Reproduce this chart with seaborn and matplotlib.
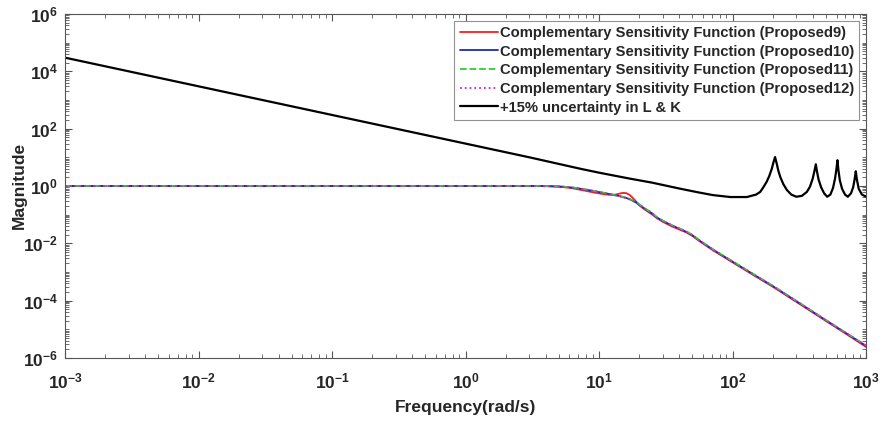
import matplotlib
matplotlib.use("Agg")
import matplotlib.pyplot as plt
import numpy as np
import seaborn as sns
from matplotlib.ticker import LogLocator, NullFormatter

# closed-loop curves (complementary sensitivity)
freq_T = [1e-3, 1e-2, 1e-1, 1, 2, 3, 4, 5, 6, 7, 8, 9, 10, 11, 12, 13, 14, 15, 16,
          17, 18, 19, 20, 22, 25, 27, 30, 35, 40, 45, 50, 57, 72, 100, 150, 202,
          300, 500, 700, 1000]
mag_p9 = [1.0, 1.0, 1.0, 1.0, 1.0, 0.995, 0.98, 0.94, 0.86, 0.76, 0.67, 0.60, 0.55,
          0.51, 0.49, 0.49, 0.53, 0.57, 0.56, 0.48, 0.37, 0.28, 0.21, 0.15, 0.10,
          0.076, 0.056, 0.039, 0.030, 0.024, 0.018, 0.0115, 0.0055, 0.00215,
          0.00068, 0.000295, 0.00009, 0.0000194, 0.0000071, 0.0000024]
mag_p10 = [1.0, 1.0, 1.0, 1.0, 1.0, 0.998, 0.99, 0.96, 0.90, 0.82, 0.74, 0.67, 0.61,
           0.56, 0.52, 0.48, 0.45, 0.41, 0.38, 0.34, 0.30, 0.26, 0.22, 0.16, 0.11,
           0.08, 0.06, 0.042, 0.032, 0.025, 0.019, 0.012, 0.0058, 0.00227, 0.00072,
           0.00031, 0.000095, 0.0000204, 0.0000075, 0.0000026]
mag_p11 = [1.0, 1.0, 1.0, 1.0, 1.0, 0.998, 0.99, 0.965, 0.91, 0.83, 0.75, 0.68, 0.62,
           0.57, 0.53, 0.49, 0.46, 0.42, 0.39, 0.35, 0.31, 0.27, 0.23, 0.165, 0.114,
           0.083, 0.062, 0.043, 0.033, 0.026, 0.0196, 0.0124, 0.006, 0.00234,
           0.00074, 0.00032, 0.000098, 0.000021, 0.0000077, 0.0000027]
mag_p12 = [1.0, 1.0, 1.0, 1.0, 1.0, 0.998, 0.99, 0.96, 0.90, 0.82, 0.74, 0.67, 0.61,
           0.56, 0.52, 0.48, 0.45, 0.41, 0.38, 0.34, 0.30, 0.26, 0.22, 0.16, 0.11,
           0.08, 0.06, 0.042, 0.032, 0.025, 0.019, 0.012, 0.0058, 0.00227, 0.00072,
           0.00031, 0.000095, 0.0000204, 0.0000075, 0.0000026]

# +15% uncertainty curve
freq_unc = [1e-3, 1e-2, 1e-1, 1, 3, 7.2, 10, 17, 25, 40, 55, 71, 96, 128, 150, 161,
            170, 180, 188, 196, 202, 208, 214, 220, 228, 240, 255, 275, 300, 330,
            360, 380, 398, 410, 420, 428, 440, 460, 485, 511, 540, 565, 585, 598,
            610, 620, 635, 660, 695, 729, 770, 800, 820, 837, 852, 880, 930, 1000]
mag_unc = [3e4, 3e3, 300, 30, 10, 4.0, 2.9, 1.8, 1.3, 0.81, 0.6, 0.48, 0.41, 0.41,
           0.5, 0.62, 0.9, 1.4, 2.2, 3.8, 6.5, 10.2, 6.0, 3.4, 2.0, 1.15, 0.72, 0.5,
           0.42, 0.45, 0.62, 0.95, 1.8, 3.3, 5.7, 3.3, 1.7, 0.9, 0.55, 0.42, 0.5,
           0.85, 1.8, 3.6, 7.9, 3.6, 1.6, 0.8, 0.5, 0.42, 0.55, 0.9, 1.7, 3.25, 1.7,
           0.8, 0.5, 0.42]

labels = ["Complementary Sensitivity Function (Proposed9)",
          "Complementary Sensitivity Function (Proposed10)",
          "Complementary Sensitivity Function (Proposed11)",
          "Complementary Sensitivity Function (Proposed12)",
          "+15% uncertainty in L & K"]

xticks = [1e-3, 1e-2, 1e-1, 1, 10, 100, 1000]
xticklabels = [r"$\mathbf{10^{-3}}$", r"$\mathbf{10^{-2}}$", r"$\mathbf{10^{-1}}$",
               r"$\mathbf{10^{0}}$", r"$\mathbf{10^{1}}$", r"$\mathbf{10^{2}}$",
               r"$\mathbf{10^{3}}$"]
yticks = [1e-6, 1e-4, 1e-2, 1, 1e2, 1e4, 1e6]
yticklabels = [r"$\mathbf{10^{-6}}$", r"$\mathbf{10^{-4}}$", r"$\mathbf{10^{-2}}$",
               r"$\mathbf{10^{0}}$", r"$\mathbf{10^{2}}$", r"$\mathbf{10^{4}}$",
               r"$\mathbf{10^{6}}$"]

sns.set_style("ticks")
plt.rcParams["font.family"] = ["Liberation Sans", "DejaVu Sans"]
plt.rcParams["font.weight"] = "bold"
plt.rcParams["mathtext.fontset"] = "custom"
plt.rcParams["mathtext.bf"] = "Liberation Sans:bold"
plt.rcParams["mathtext.rm"] = "Liberation Sans:bold"

fig = plt.figure(figsize=(8.82, 4.25), dpi=100)
ax = fig.add_axes([0.0737, 0.158, 0.9083, 0.809])

sns.lineplot(x=freq_T, y=mag_p9, ax=ax, color="#ff1a1a", lw=1.3, label=labels[0])
sns.lineplot(x=freq_T, y=mag_p10, ax=ax, color="#1a2ab0", lw=1.3, label=labels[1])
sns.lineplot(x=freq_T, y=mag_p11, ax=ax, color="#33cc33", lw=1.3, linestyle="--", label=labels[2])
sns.lineplot(x=freq_T, y=mag_p12, ax=ax, color="#cc22cc", lw=1.3, linestyle=":", label=labels[3])
sns.lineplot(x=freq_unc, y=mag_unc, ax=ax, color="black", lw=1.6, label=labels[4])

ax.set_xscale("log")
ax.set_yscale("log")
ax.set_xlim(1e-3, 1e3)
ax.set_ylim(1e-6, 1e6)
ax.set_xticks(xticks)
ax.set_xticklabels(xticklabels)
ax.set_yticks(yticks)
ax.set_yticklabels(yticklabels)
ax.xaxis.set_minor_locator(LogLocator(base=10, subs=np.arange(2, 10), numticks=100))
ax.yaxis.set_minor_locator(LogLocator(base=10, subs=np.arange(1, 10), numticks=100))
ax.xaxis.set_minor_formatter(NullFormatter())
ax.yaxis.set_minor_formatter(NullFormatter())
ax.tick_params(which="both", direction="in", top=True, right=True, labelsize=12.5,
               color="#555555")
ax.tick_params(which="major", length=5, width=0.8)
ax.tick_params(which="minor", length=3, width=0.6)
ax.tick_params(axis="x", which="major", pad=10)
ax.tick_params(axis="y", which="major", pad=5)
for s in ax.spines.values():
    s.set_color("#555555")
    s.set_linewidth(0.8)

ax.set_xlabel("Frequency(rad/s)", fontsize=12.5, fontweight="bold", labelpad=6)
ax.set_ylabel("Magnitude", fontsize=12.5, fontweight="bold")
ax.yaxis.set_label_coords(-0.048, 0.5)

leg = ax.legend(loc="upper right", fontsize=10.6, frameon=True, fancybox=False,
                handlelength=2.6, handletextpad=0.15, borderpad=0.35,
                labelspacing=0.32, borderaxespad=0.45)
leg.get_frame().set_edgecolor("#777777")
leg.get_frame().set_linewidth(0.8)
for t in leg.get_texts():
    t.set_fontweight("bold")

fig.savefig("out.png", dpi=100)
